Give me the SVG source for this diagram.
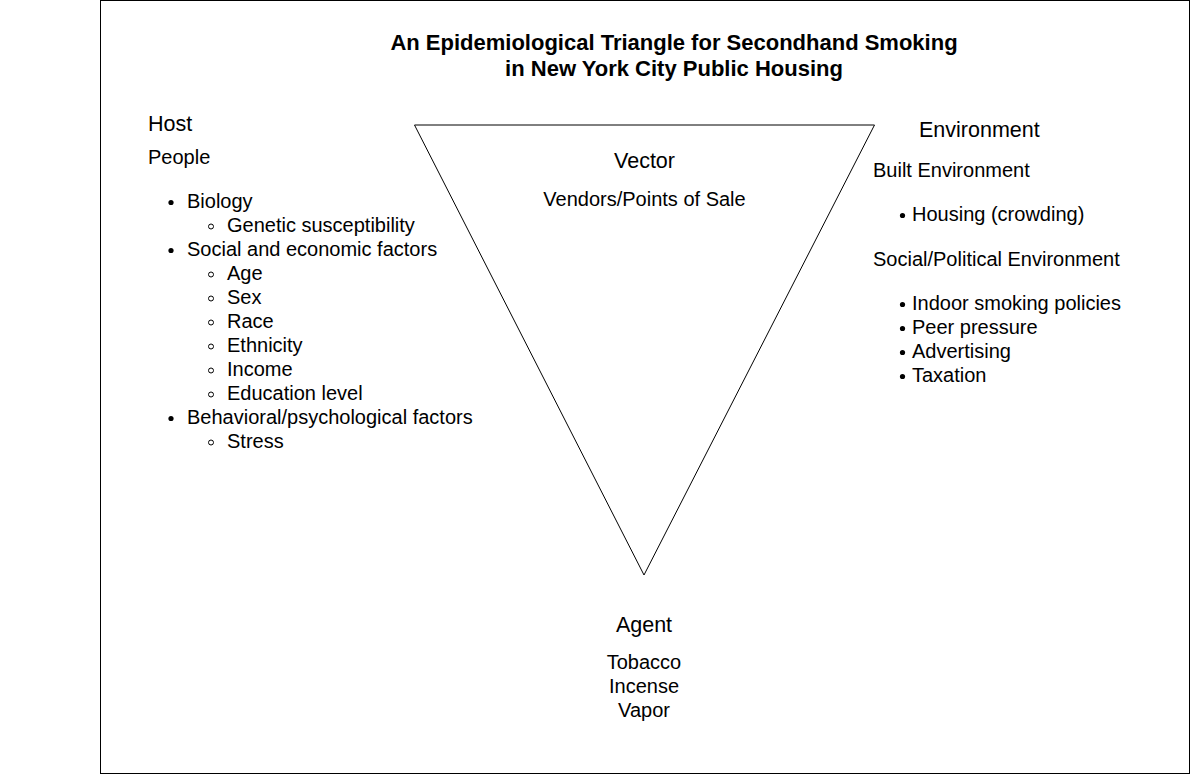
<svg xmlns="http://www.w3.org/2000/svg" width="1191" height="775" viewBox="0 0 1191 775">
<style>
text{font-family:"Liberation Sans",Arial,sans-serif;fill:#000}
.t{font-size:22px;font-weight:bold;text-anchor:middle}
.h{font-size:21.5px}
.b{font-size:20px}
.c{text-anchor:middle}
.dot{fill:#000}
.ring{fill:none;stroke:#000;stroke-width:1}
</style>
<rect x="100.5" y="0.5" width="1089" height="773" fill="#fff" stroke="#000" stroke-width="1"/>
<g id="title">
<text class="t" x="674" y="50">An Epidemiological Triangle for Secondhand Smoking</text>
<text class="t" x="674" y="76">in New York City Public Housing</text>
</g>
<g id="connectors">
<polygon points="414.5,125 874.5,125 644,575" fill="none" stroke="#000" stroke-width="1"/>
</g>
<g id="host">
<text class="h" x="148" y="131">Host</text>
<text class="b" x="148" y="164">People</text>
<circle class="dot" cx="171" cy="202.5" r="2.6"/>
<text class="b" x="187" y="208">Biology</text>
<circle class="ring" cx="211" cy="226.5" r="2.5"/>
<text class="b" x="227" y="232">Genetic susceptibility</text>
<circle class="dot" cx="171" cy="250.5" r="2.6"/>
<text class="b" x="187" y="256">Social and economic factors</text>
<circle class="ring" cx="211" cy="274.5" r="2.5"/>
<text class="b" x="227" y="280">Age</text>
<circle class="ring" cx="211" cy="298.5" r="2.5"/>
<text class="b" x="227" y="304">Sex</text>
<circle class="ring" cx="211" cy="322.5" r="2.5"/>
<text class="b" x="227" y="328">Race</text>
<circle class="ring" cx="211" cy="346.5" r="2.5"/>
<text class="b" x="227" y="352">Ethnicity</text>
<circle class="ring" cx="211" cy="370.5" r="2.5"/>
<text class="b" x="227" y="376">Income</text>
<circle class="ring" cx="211" cy="394.5" r="2.5"/>
<text class="b" x="227" y="400">Education level</text>
<circle class="dot" cx="171" cy="418.5" r="2.6"/>
<text class="b" x="187" y="424">Behavioral/psychological factors</text>
<circle class="ring" cx="211" cy="442.5" r="2.5"/>
<text class="b" x="227" y="448">Stress</text>
</g>
<g id="vector">
<text class="h c" x="644.5" y="168">Vector</text>
<text class="b c" x="644.5" y="206">Vendors/Points of Sale</text>
</g>
<g id="environment">
<text class="h" x="919" y="137">Environment</text>
<text class="b" x="873" y="177">Built Environment</text>
<circle class="dot" cx="902.5" cy="215.5" r="2.6"/>
<text class="b" x="912" y="221">Housing (crowding)</text>
<text class="b" x="873" y="266">Social/Political Environment</text>
<circle class="dot" cx="902.5" cy="304.5" r="2.6"/>
<text class="b" x="912" y="310">Indoor smoking policies</text>
<circle class="dot" cx="902.5" cy="328.5" r="2.6"/>
<text class="b" x="912" y="334">Peer pressure</text>
<circle class="dot" cx="902.5" cy="352.5" r="2.6"/>
<text class="b" x="912" y="358">Advertising</text>
<circle class="dot" cx="902.5" cy="376.5" r="2.6"/>
<text class="b" x="912" y="382">Taxation</text>
</g>
<g id="agent">
<text class="h c" x="644" y="632">Agent</text>
<text class="b c" x="644" y="669">Tobacco</text>
<text class="b c" x="644" y="693">Incense</text>
<text class="b c" x="644" y="717">Vapor</text>
</g>
</svg>
